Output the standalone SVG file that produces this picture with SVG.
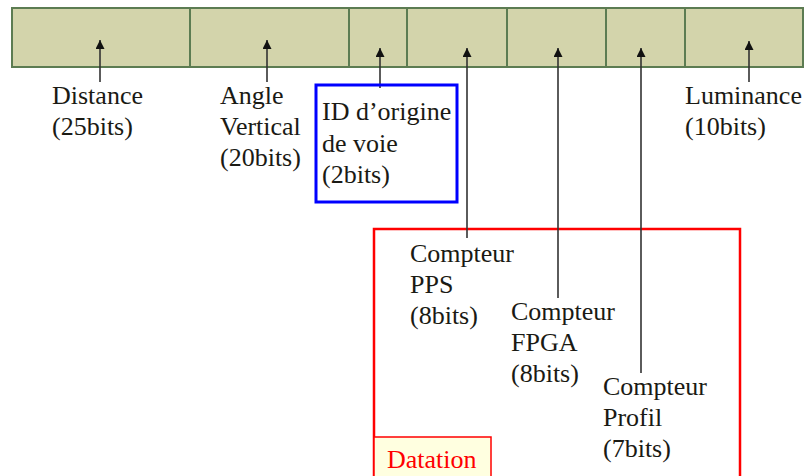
<svg xmlns="http://www.w3.org/2000/svg" width="805" height="476" viewBox="0 0 805 476">
<style>
.cell{fill:#d3d4ab;stroke:#5c7c52;stroke-width:2}
text{font-family:'Liberation Serif','Times New Roman','DejaVu Serif',serif;font-size:26px;fill:#1a1a14}
.con{stroke:#333;stroke-width:1.6;fill:none}
</style>
<defs>
<marker id="ah" viewBox="0 0 10 10" refX="10" refY="5" markerWidth="10" markerHeight="9" markerUnits="userSpaceOnUse" orient="auto">
<path d="M0,0 L10,5 L0,10 Z" fill="#111"/>
</marker>
</defs>
<rect width="805" height="476" fill="#fff"/>
<g id="bar">
<rect class="cell" x="12" y="8" width="178" height="59"/>
<rect class="cell" x="190" y="8" width="159" height="59"/>
<rect class="cell" x="349" y="8" width="58" height="59"/>
<rect class="cell" x="407" y="8" width="100" height="59"/>
<rect class="cell" x="507" y="8" width="99" height="59"/>
<rect class="cell" x="606" y="8" width="79" height="59"/>
<rect class="cell" x="685" y="8" width="118" height="59"/>
</g>
<g id="datation">
<rect x="374" y="229" width="366" height="260" fill="none" stroke="#ff0000" stroke-width="2.5"/>
<rect x="374" y="437" width="117" height="50" fill="#ffffe0" stroke="#ff0000" stroke-width="1.5"/>
<text x="387" y="468" font-family="Liberation Serif, serif" style="fill:#ff0000">Datation</text>
</g>
<g id="connectors">
<line class="con" x1="100" y1="82" x2="100" y2="40" marker-end="url(#ah)"/>
<line class="con" x1="267" y1="82" x2="267" y2="40" marker-end="url(#ah)"/>
<line class="con" x1="380" y1="88" x2="380" y2="48" marker-end="url(#ah)"/>
<line class="con" x1="467" y1="238" x2="467" y2="48" marker-end="url(#ah)"/>
<line class="con" x1="558" y1="298" x2="558" y2="48" marker-end="url(#ah)"/>
<line class="con" x1="641" y1="373" x2="641" y2="48" marker-end="url(#ah)"/>
<line class="con" x1="749" y1="82" x2="749" y2="41" marker-end="url(#ah)"/>
</g>
<g id="distance">
<text x="52" y="104">Distance</text>
<text x="52" y="135">(25bits)</text>
</g>
<g id="angle">
<text x="220" y="104">Angle</text>
<text x="220" y="135">Vertical</text>
<text x="220" y="166">(20bits)</text>
</g>
<g id="id-voie">
<rect x="316" y="85" width="141" height="117" fill="none" stroke="#0000ff" stroke-width="3"/>
<text x="322" y="120">ID d’origine</text>
<text x="322" y="152">de voie</text>
<text x="322" y="183">(2bits)</text>
</g>
<g id="luminance">
<text x="685" y="104">Luminance</text>
<text x="685" y="135">(10bits)</text>
</g>
<g id="pps">
<text x="410" y="262">Compteur</text>
<text x="410" y="293">PPS</text>
<text x="410" y="324">(8bits)</text>
</g>
<g id="fpga">
<text x="511" y="320">Compteur</text>
<text x="511" y="351">FPGA</text>
<text x="511" y="382">(8bits)</text>
</g>
<g id="profil">
<text x="603" y="395">Compteur</text>
<text x="603" y="426">Profil</text>
<text x="603" y="457">(7bits)</text>
</g>
</svg>
